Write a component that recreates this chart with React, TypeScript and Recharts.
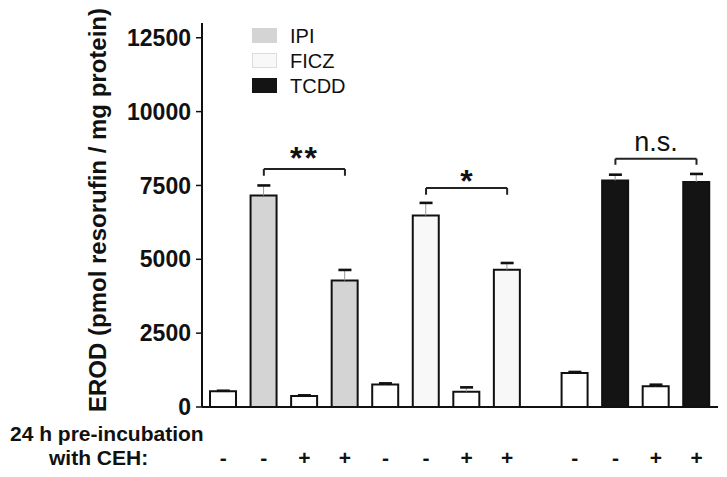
import React from 'react';
import {
  ComposedChart,
  Bar,
  Cell,
  XAxis,
  YAxis,
  ErrorBar,
  Scatter,
  ReferenceLine,
  Legend,
} from 'recharts';

const FONT = '"Liberation Sans", Arial, Helvetica, sans-serif';

// ---- data ----
const treatments = ['none', 'IPI', 'none', 'IPI', 'none', 'FICZ', 'none', 'FICZ', 'none', 'TCDD', 'none', 'TCDD'];
const cehSigns = ['-', '-', '+', '+', '-', '-', '+', '+', '-', '-', '+', '+'];
const positions = [0, 1, 2, 3, 4, 5, 6, 7, 8.67, 9.67, 10.67, 11.67];
const erodValues = [530, 7160, 370, 4280, 760, 6480, 520, 4650, 1150, 7670, 700, 7620];
const semValues = [20, 340, 25, 360, 40, 430, 145, 225, 35, 195, 55, 270];
const yTicks = [0, 2500, 5000, 7500, 10000, 12500];
const legendItems = ['IPI', 'FICZ', 'TCDD'];
const brackets = [
  { from: 1, to: 3, level: 8056, drop: 227, label: '**' },
  { from: 5, to: 7, level: 7413, drop: 227, label: '*' },
  { from: 9, to: 11, level: 8405, drop: 205, label: 'n.s.' },
];

const fills: Record<string, string> = {
  none: '#ffffff',
  IPI: '#d4d4d4',
  FICZ: '#f8f8f8',
  TCDD: '#141414',
};
const legendStroke: Record<string, string> = {
  IPI: '#d4d4d4',
  FICZ: '#dddddd',
  TCDD: '#141414',
};

const SignTick = (props: any) => {
  const { x, y, payload } = props;
  const i = positions.indexOf(payload.value);
  return (
    <text x={x} y={y + 58} textAnchor="middle" fontSize={21} fontWeight={700} fill="#111" fontFamily={FONT}>
      {i >= 0 ? cehSigns[i] : ''}
    </text>
  );
};

const CapShape = (props: any) => {
  const { cx, cy } = props;
  if (cx == null || cy == null) return null;
  return <rect x={cx - 6.5} y={cy - 1.3} width={13} height={2.6} fill="#111" />;
};

const YLabel = () => (
  <text
    x={106}
    y={210}
    transform="rotate(-90 106 210)"
    textAnchor="middle"
    fontSize={24}
    fontWeight={700}
    fill="#111"
    fontFamily={FONT}
  >
    EROD (pmol resorufin / mg protein)
  </text>
);

const XLabel = () => (
  <g fontFamily={FONT} fontSize={21} fontWeight={700} fill="#111">
    <text x={10} y={441}>24 h pre-incubation</text>
    <text x={49} y={465}>with CEH:</text>
  </g>
);

const LegendBox = () => (
  <svg width={140} height={75} style={{ display: 'block' }}>
    {legendItems.map((name, i) => (
      <g key={name}>
        <rect x={2.5} y={2.5 + i * 25} width={24} height={14} fill={fills[name]} stroke={legendStroke[name]} strokeWidth={1} />
        <text x={40} y={17 + i * 25} fontSize={20} fill="#111" fontFamily={FONT}>
          {name}
        </text>
      </g>
    ))}
  </svg>
);

export default function App() {
  const data = positions.map((p, i) => ({
    pos: p,
    erod: erodValues[i],
    errRange: [0, semValues[i]],
    top: erodValues[i] + semValues[i],
    treatment: treatments[i],
  }));

  const lineProps = { stroke: '#222', strokeWidth: 2, ifOverflow: 'visible' as const };

  return (
    <div style={{ position: 'absolute', left: 0, top: 0, width: 727, height: 477, background: '#fff', fontFamily: FONT }}>
      <ComposedChart width={727} height={477} data={data} margin={{ top: 23, right: 9, bottom: 10, left: 0 }}>
        <XAxis
          type="number"
          dataKey="pos"
          domain={[-0.525, 12.2]}
          ticks={positions}
          interval={0}
          allowDataOverflow
          tickLine={false}
          tickSize={0}
          tickMargin={0}
          height={60}
          axisLine={{ stroke: '#111', strokeWidth: 2 }}
          tick={<SignTick />}
          label={<XLabel />}
        />
        <YAxis
          type="number"
          domain={[0, 13000]}
          ticks={yTicks}
          interval={0}
          allowDataOverflow
          width={202}
          tickSize={6}
          tickMargin={5}
          axisLine={{ stroke: '#111', strokeWidth: 2 }}
          tickLine={{ stroke: '#111', strokeWidth: 1.5 }}
          tick={{ fontSize: 23, fontWeight: 700, fill: '#111', fontFamily: FONT }}
          label={<YLabel />}
        />
        <Legend
          layout="vertical"
          align="center"
          verticalAlign="middle"
          wrapperStyle={{ top: 26, left: 250, width: 140, height: 75 }}
          content={() => <LegendBox />}
        />
        <Bar dataKey="erod" barSize={26} stroke="#111" strokeWidth={2} isAnimationActive={false}>
          {data.map((d, i) => (
            <Cell key={i} fill={fills[d.treatment]} />
          ))}
          <ErrorBar dataKey="errRange" width={0} stroke="#9a9a9a" strokeWidth={1} direction="y" isAnimationActive={false} />
        </Bar>
        <Scatter dataKey="top" shape={CapShape} isAnimationActive={false} legendType="none" />
        {brackets.map((b) => (
          <ReferenceLine
            key={b.label + 'h'}
            segment={[
              { x: positions[b.from], y: b.level },
              { x: positions[b.to], y: b.level },
            ]}
            {...lineProps}
            label={{
              value: b.label,
              position: 'top',
              offset: b.label === 'n.s.' ? 8 : b.label === '**' ? 0 : -4,
              fontSize: b.label === 'n.s.' ? 27 : 32,
              fontWeight: b.label === 'n.s.' ? 400 : 700,
              letterSpacing: b.label === '**' ? 2 : 0,
              fill: '#111',
              fontFamily: FONT,
            }}
          />
        ))}
        {brackets.map((b) => (
          <ReferenceLine
            key={b.label + 'l'}
            segment={[
              { x: positions[b.from], y: b.level },
              { x: positions[b.from], y: b.level - b.drop },
            ]}
            {...lineProps}
          />
        ))}
        {brackets.map((b) => (
          <ReferenceLine
            key={b.label + 'r'}
            segment={[
              { x: positions[b.to], y: b.level },
              { x: positions[b.to], y: b.level - b.drop },
            ]}
            {...lineProps}
          />
        ))}
      </ComposedChart>
    </div>
  );
}
